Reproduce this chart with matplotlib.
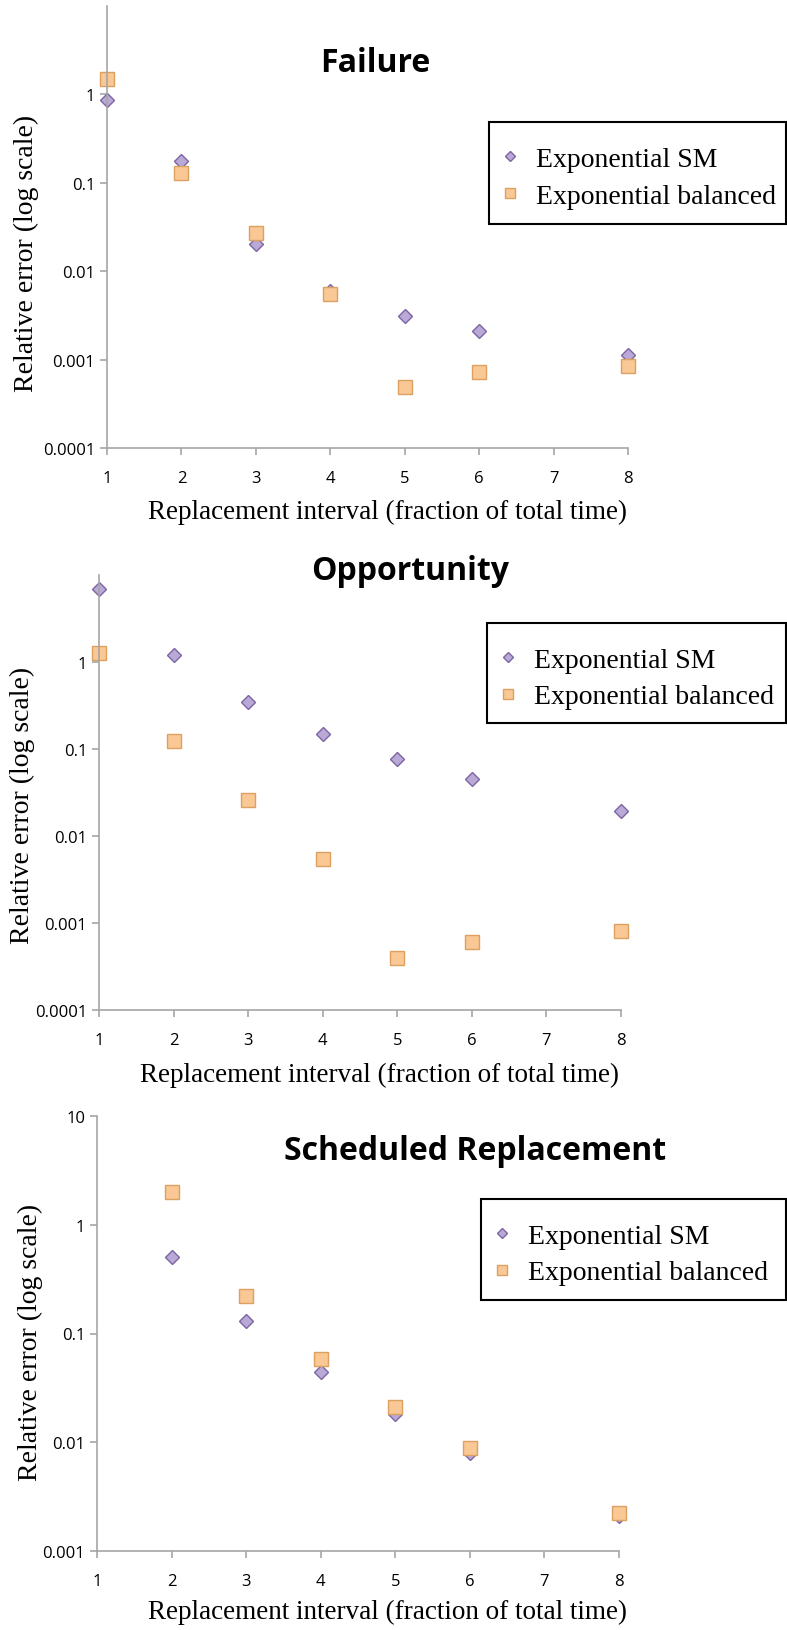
import numpy as np
import matplotlib.pyplot as plt
from matplotlib.patches import Rectangle

# replacement interval (x) and relative errors
x_vals = [1, 2, 3, 4, 5, 6, 8]
failure_sm = [0.87, 0.175, 0.0203, 0.0059, 0.0031, 0.0021, 0.00113]
failure_bal = [1.5, 0.129, 0.0268, 0.00555, 0.00049, 0.00073, 0.00085]

opp_sm = [6.9, 1.2, 0.347, 0.15, 0.0774, 0.0456, 0.0195]
opp_bal = [1.26, 0.124, 0.026, 0.00544, 0.0004, 0.0006, 0.0008]

sched_x = [2, 3, 4, 5, 6, 8]
sched_sm = [0.508, 0.1316, 0.0442, 0.0183, 0.0079, 0.0021]
sched_bal = [1.98, 0.223, 0.0586, 0.0211, 0.0089, 0.00225]

titles = ['Failure', 'Opportunity', 'Scheduled Replacement']
series_names = ['Exponential SM', 'Exponential balanced']
x_ticks = [1, 2, 3, 4, 5, 6, 7, 8]
y_ticks_a = [0.0001, 0.001, 0.01, 0.1, 1]
y_labels_a = ['0.0001', '0.001', '0.01', '0.1', '1']
y_ticks_b = [0.001, 0.01, 0.1, 1, 10]
y_labels_b = ['0.001', '0.01', '0.1', '1', '10']

W, H = 787, 1631
fig = plt.figure(figsize=(W / 100, H / 100), dpi=100)

serif = 'Liberation Serif'
sans = 'Open Sans'
grey = '#a6a6a6'


def fx(px):
    return px / W


def fy(py):
    return 1 - py / H


panels = [
    # axes box: left, right, top, bottom (pixels); legend box: left, top, bottom
    dict(box=(107, 628, 7, 449), x=x_vals, sm=failure_sm, bal=failure_bal,
         ylim=(1e-4, 10), yt=y_ticks_a, yl=y_labels_a,
         title=(375, 63), ylab=(26, 253), xlab=(388, 512), leg=(489, 123, 225)),
    dict(box=(99, 621, 576, 1011), x=x_vals, sm=opp_sm, bal=opp_bal,
         ylim=(1e-4, 10), yt=y_ticks_a, yl=y_labels_a,
         title=(410, 572), ylab=(22, 805), xlab=(380, 1075), leg=(487, 624, 724)),
    dict(box=(97, 619, 1117, 1552), x=sched_x, sm=sched_sm, bal=sched_bal,
         ylim=(1e-3, 10), yt=y_ticks_b, yl=y_labels_b,
         title=(475, 1152), ylab=(30, 1342), xlab=(388, 1612), leg=(481, 1200, 1301)),
]

for i, p in enumerate(panels):
    l, r, t, b = p['box']
    ax = fig.add_axes([fx(l), fy(b), (r - l) / W, (b - t) / H])
    ax.set_yscale('log')
    ax.plot(p['x'], p['sm'], 'D', ms=7.5, mfc='#b8a9d6', mec='#7d65a4', mew=1,
            label=series_names[0], clip_on=False)
    ax.plot(p['x'], p['bal'], 's', ms=9.5, mfc='#fac895', mec='#dca060', mew=1,
            label=series_names[1], clip_on=False)
    ax.set_xlim(1, 8)
    ax.set_ylim(*p['ylim'])
    ax.set_xticks(x_ticks)
    ax.set_yticks(p['yt'])
    ax.set_yticklabels(p['yl'])
    ax.minorticks_off()
    for s in ['top', 'right']:
        ax.spines[s].set_visible(False)
    for s in ['left', 'bottom']:
        ax.spines[s].set_color(grey)
        ax.spines[s].set_linewidth(1.2)
    ax.tick_params(axis='both', colors=grey, labelcolor='black', labelsize=12,
                   length=5, width=1.2)
    ax.tick_params(axis='x', pad=11)
    for lab in ax.get_xticklabels() + ax.get_yticklabels():
        lab.set_family(sans)

    fig.text(fx(p['title'][0]), fy(p['title'][1]), titles[i], family=sans,
             fontweight='bold', fontsize=23, ha='center', va='center')
    fig.text(fx(p['ylab'][0]), fy(p['ylab'][1]), 'Relative error (log scale)',
             family=serif, fontsize=20, rotation=90, ha='center', va='center')
    fig.text(fx(p['xlab'][0]), fy(p['xlab'][1]),
             'Replacement interval (fraction of total time)',
             family=serif, fontsize=19.5, ha='center', va='center')

    # legend entries without frame, box drawn separately
    ll, lt, lb = p['leg']
    ax.legend(loc='upper left', bbox_to_anchor=(fx(ll + 12.7), fy(lt + 24.5)),
              bbox_transform=fig.transFigure, frameon=False,
              prop={'family': serif, 'size': 20},
              markerscale=0.7, handlelength=0.6, handletextpad=0.63,
              borderpad=0, labelspacing=0.4, borderaxespad=0)
    fig.add_artist(Rectangle((fx(ll), fy(lb)), (786 - ll) / W, (lb - lt) / H,
                             transform=fig.transFigure, fill=False,
                             ec='black', lw=1.5))

fig.savefig('out.png', dpi=100)
